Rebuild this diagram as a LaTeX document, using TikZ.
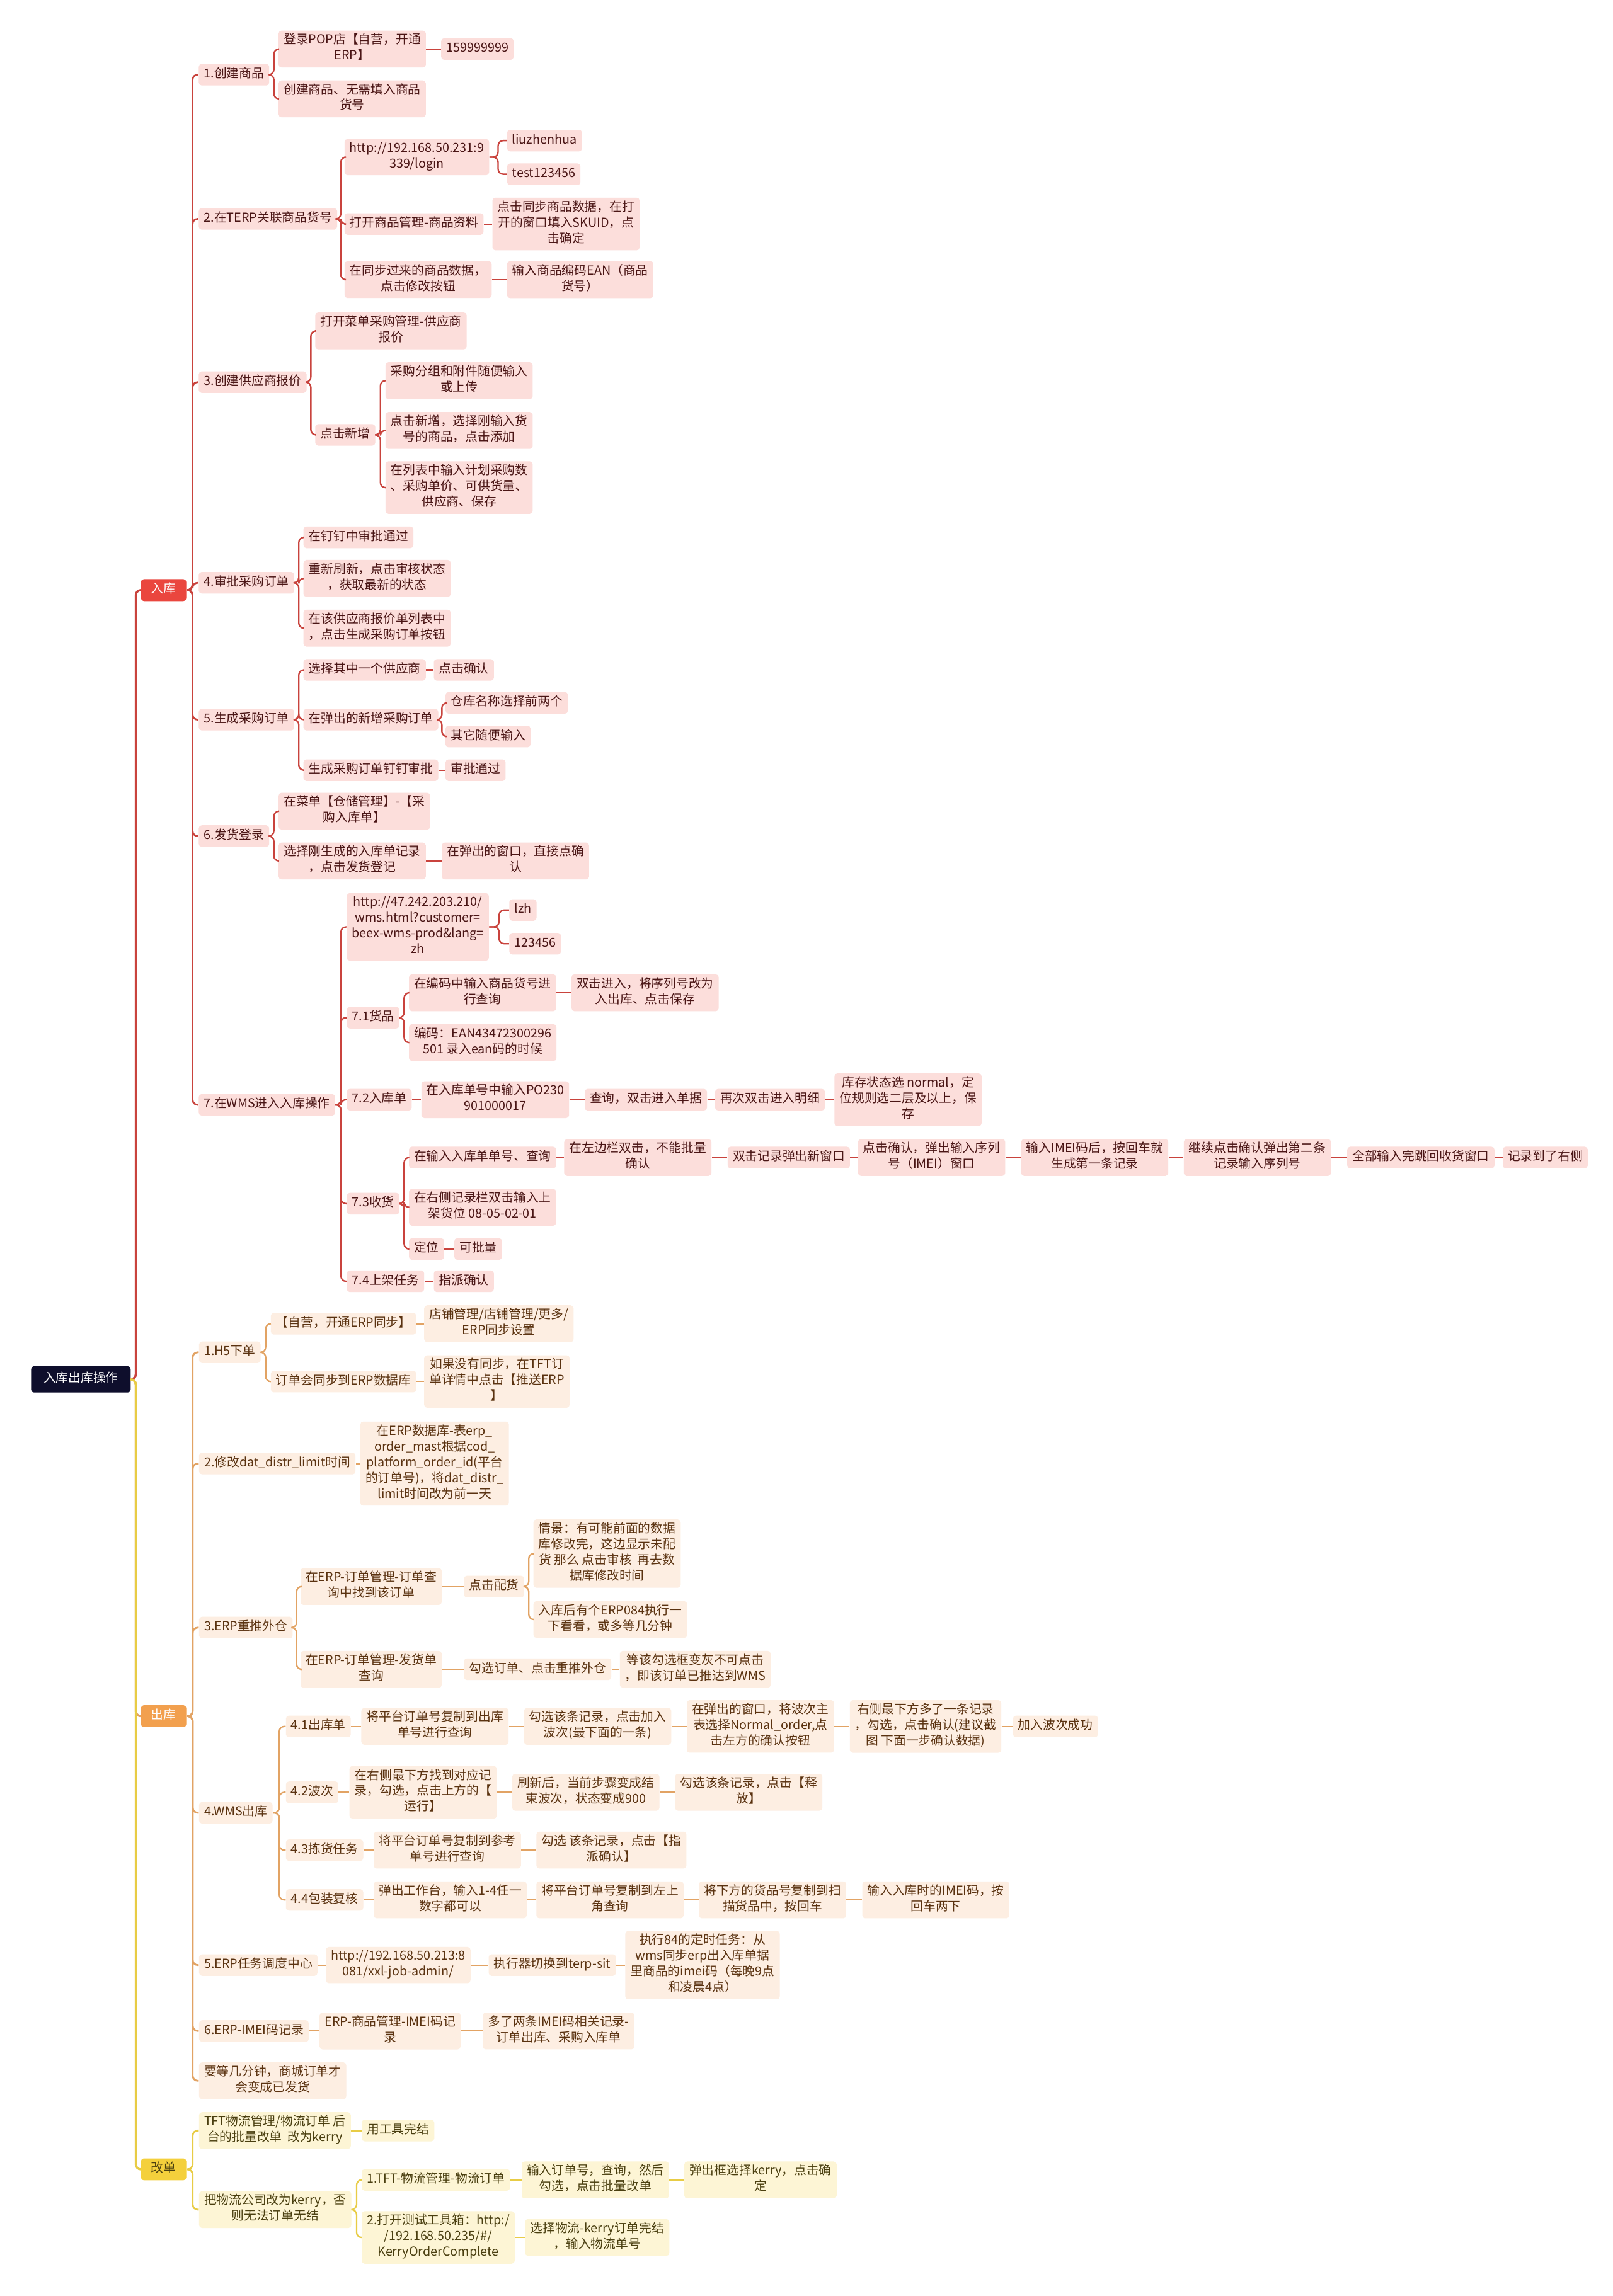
\documentclass[tikz,border=0pt]{standalone}
\usepackage{fontspec}
\setmainfont{Noto Sans CJK SC}
\usetikzlibrary{calc}

\definecolor{cRoot}{HTML}{0E0E2C}
\definecolor{cInHd}{HTML}{EA463E}
\definecolor{cInLn}{HTML}{C9433D}
\definecolor{cInBg}{HTML}{FCDEDB}
\definecolor{cInTx}{HTML}{4A1515}
\definecolor{cOutHd}{HTML}{F2A04E}
\definecolor{cOutLn}{HTML}{E2A364}
\definecolor{cOutBg}{HTML}{FDEEE2}
\definecolor{cOutTx}{HTML}{5A3210}
\definecolor{cChgHd}{HTML}{F4D03C}
\definecolor{cChgLn}{HTML}{E8CC45}
\definecolor{cChgBg}{HTML}{FDF5D5}
\definecolor{cChgTx}{HTML}{4A3F10}

\begin{document}
\begin{tikzpicture}[x=1pt, y=-1pt,
  box/.style={rounded corners=2pt, align=center, anchor=west,
    inner xsep=3.5pt, inner ysep=2pt,
    font=\fontsize{8.5}{10.75}\selectfont,
    execute at begin node=\strut, execute at end node=\strut},
  head/.style={box, minimum width=31pt, minimum height=15pt, text=white},
  rootbox/.style={box, fill=cRoot, text=white, inner xsep=8.5pt, minimum height=18pt},
  inhead/.style={head, fill=cInHd},
  outhead/.style={head, fill=cOutHd},
  chghead/.style={head, fill=cChgHd, text=cChgTx},
  inleaf/.style={box, fill=cInBg, text=cInTx},
  outleaf/.style={box, fill=cOutBg, text=cOutTx},
  chgleaf/.style={box, fill=cChgBg, text=cChgTx},
  brk/.style={rounded corners=3.5pt,
    to path={-- ($(\tikztostart)!.5!(\tikztostart -| \tikztotarget)$) |- (\tikztotarget)}},
  straight/.style={to path={-- (\tikztotarget)}},
  inln/.style={brk, draw=cInLn, line width=1pt},
  outln/.style={brk, draw=cOutLn, line width=1pt},
  chgln/.style={brk, draw=cChgLn, line width=1pt}]

  \useasboundingbox (0,0) rectangle (1101,1568);
  \fill[white] (0,0) rectangle (1101,1568);

  % root and the three branches
  \node[rootbox] (r) at (21,942) {入库出库操作};
  \node[inhead] (in) at (96,403) {入库};
  \node[outhead] (out) at (96,1172) {出库};
  \node[chghead] (chg) at (96,1481.5) {改单};

  % 入库
  \node[inleaf] (i1) at (135.5,51) {1.创建商品};
  \node[inleaf] (i1a) at (190,33.5) {登录POP店【自营，开通\\ERP】};
  \node[inleaf] (i1a1) at (301,33.5) {159999999};
  \node[inleaf] (i1b) at (190,67.5) {创建商品、无需填入商品\\货号};

  \node[inleaf] (i2) at (135.5,149.5) {2.在TERP关联商品货号};
  \node[inleaf] (i2a) at (235,107.3) {http://192.168.50.231:9\\339/login};
  \node[inleaf] (i2a1) at (346,96) {liuzhenhua};
  \node[inleaf] (i2a2) at (346,119) {test123456};
  \node[inleaf] (i2b) at (235,153) {打开商品管理-商品资料};
  \node[inleaf] (i2b1) at (336,153) {点击同步商品数据，在打\\开的窗口填入SKUID，点\\击确定};
  \node[inleaf] (i2c) at (235,191) {在同步过来的商品数据，\\点击修改按钮};
  \node[inleaf] (i2c1) at (346,191) {输入商品编码EAN（商品\\货号）};

  \node[inleaf] (i3) at (135.5,261) {3.创建供应商报价};
  \node[inleaf] (i3a) at (215,226) {打开菜单采购管理-供应商\\报价};
  \node[inleaf] (i3b) at (215,297) {点击新增};
  \node[inleaf] (i3b1) at (263,260) {采购分组和附件随便输入\\或上传};
  \node[inleaf] (i3b2) at (263,294) {点击新增，选择刚输入货\\号的商品，点击添加};
  \node[inleaf] (i3b3) at (263,333) {在列表中输入计划采购数\\、采购单价、可供货量、\\供应商、保存};

  \node[inleaf] (i4) at (135.5,398) {4.审批采购订单};
  \node[inleaf] (i4a) at (207,367) {在钉钉中审批通过};
  \node[inleaf] (i4b) at (207,395) {重新刷新，点击审核状态\\，获取最新的状态};
  \node[inleaf] (i4c) at (207,429) {在该供应商报价单列表中\\，点击生成采购订单按钮};

  \node[inleaf] (i5) at (135.5,491.5) {5.生成采购订单};
  \node[inleaf] (i5a) at (207,457.5) {选择其中一个供应商};
  \node[inleaf] (i5a1) at (296,457.5) {点击确认};
  \node[inleaf] (i5b) at (207,491.5) {在弹出的新增采购订单};
  \node[inleaf] (i5b1) at (304,480) {仓库名称选择前两个};
  \node[inleaf] (i5b2) at (304,503) {其它随便输入};
  \node[inleaf] (i5c) at (207,526) {生成采购订单钉钉审批};
  \node[inleaf] (i5c1) at (304,526) {审批通过};

  \node[inleaf] (i6) at (135.5,571) {6.发货登录};
  \node[inleaf] (i6a) at (190,554) {在菜单【仓储管理】-【采\\购入库单】};
  \node[inleaf] (i6b) at (190,588) {选择刚生成的入库单记录\\，点击发货登记};
  \node[inleaf] (i6b1) at (301.5,588) {在弹出的窗口，直接点确\\认};

  \node[inleaf] (i7) at (135.5,754.5) {7.在WMS进入入库操作};
  \node[inleaf] (i7a) at (236.6,633) {http://47.242.203.210/\\wms.html?customer=\\beex-wms-prod\&lang=\\zh};
  \node[inleaf] (i7a1) at (347.5,621.5) {lzh};
  \node[inleaf] (i7a2) at (347.5,644.5) {123456};
  \node[inleaf] (i7b) at (236.6,695) {7.1货品};
  \node[inleaf] (i7b1) at (279,678) {在编码中输入商品货号进\\行查询};
  \node[inleaf] (i7b11) at (390,678) {双击进入，将序列号改为\\入出库、点击保存};
  \node[inleaf] (i7b2) at (279,712) {编码：EAN43472300296\\501 录入ean码的时候};
  \node[inleaf] (i7c) at (236.6,751) {7.2入库单};
  \node[inleaf] (i7c1) at (287.5,751) {在入库单号中输入PO230\\901000017};
  \node[inleaf] (i7c2) at (399,751) {查询，双击进入单据};
  \node[inleaf] (i7c3) at (488,751) {再次双击进入明细};
  \node[inleaf] (i7c4) at (569.5,751) {库存状态选 normal，定\\位规则选二层及以上，保\\存};
  \node[inleaf] (i7d) at (236.6,822) {7.3收货};
  \node[inleaf] (i7d1) at (279,790.5) {在输入入库单单号、查询};
  \node[inleaf] (i7d1a) at (385,790.5) {在左边栏双击，不能批量\\确认};
  \node[inleaf] (i7d1b) at (496.6,790.5) {双击记录弹出新窗口};
  \node[inleaf] (i7d1c) at (585.6,790.5) {点击确认，弹出输入序列\\号（IMEI）窗口};
  \node[inleaf] (i7d1d) at (697,790.5) {输入IMEI码后，按回车就\\生成第一条记录};
  \node[inleaf] (i7d1e) at (808,790.5) {继续点击确认弹出第二条\\记录输入序列号};
  \node[inleaf] (i7d1f) at (919.6,790.5) {全部输入完跳回收货窗口};
  \node[inleaf] (i7d1g) at (1025.8,790.5) {记录到了右侧};
  \node[inleaf] (i7d2) at (279,824.5) {在右侧记录栏双击输入上\\架货位 08-05-02-01};
  \node[inleaf] (i7d3) at (279,853) {定位};
  \node[inleaf] (i7d31) at (310,853) {可批量};
  \node[inleaf] (i7e) at (236.6,875) {7.4上架任务};
  \node[inleaf] (i7e1) at (296,875) {指派确认};

  % 出库
  \node[outleaf] (o1) at (135.7,923.5) {1.H5下单};
  \node[outleaf] (o1a) at (184.7,904) {【自营，开通ERP同步】};
  \node[outleaf] (o1a1) at (289.4,904) {店铺管理/店铺管理/更多/\\ERP同步设置};
  \node[outleaf] (o1b) at (184.7,943.5) {订单会同步到ERP数据库};
  \node[outleaf] (o1b1) at (289.4,943.5) {如果没有同步，在TFT订\\单详情中点击【推送ERP\\】};

  \node[outleaf] (o2) at (135.7,999.5) {2.修改dat\_distr\_limit时间};
  \node[outleaf] (o2a) at (245.8,999.5) {在ERP数据库-表erp\_\\order\_mast根据cod\_\\platform\_order\_id(平台\\的订单号)，将dat\_distr\_\\limit时间改为前一天};

  \node[outleaf] (o3) at (135.7,1111.5) {3.ERP重推外仓};
  \node[outleaf] (o3a) at (205,1083.5) {在ERP-订单管理-订单查\\询中找到该订单};
  \node[outleaf] (o3a1) at (316.6,1083.5) {点击配货};
  \node[outleaf] (o3a11) at (364,1061) {情景：有可能前面的数据\\库修改完，这边显示未配\\货 那么 点击审核\ \ 再去数\\据库修改时间};
  \node[outleaf] (o3a12) at (364,1106) {入库后有个ERP084执行一\\下看看，或多等几分钟};
  \node[outleaf] (o3b) at (205,1140) {在ERP-订单管理-发货单\\查询};
  \node[outleaf] (o3b1) at (316.6,1140) {勾选订单、点击重推外仓};
  \node[outleaf] (o3b11) at (423,1140) {等该勾选框变灰不可点击\\，即该订单已推达到WMS};

  \node[outleaf] (o4) at (135.7,1238) {4.WMS出库};
  \node[outleaf] (o4a) at (195,1179) {4.1出库单};
  \node[outleaf] (o4a1) at (246.5,1179) {将平台订单号复制到出库\\单号进行查询};
  \node[outleaf] (o4a2) at (357.6,1179) {勾选该条记录，点击加入\\波次(最下面的一条)};
  \node[outleaf] (o4a3) at (468.7,1179) {在弹出的窗口，将波次主\\表选择Normal\_order,点\\击左方的确认按钮};
  \node[outleaf] (o4a4) at (580,1179) {右侧最下方多了一条记录\\，勾选，点击确认(建议截\\图 下面一步确认数据)};
  \node[outleaf] (o4a5) at (691.4,1179) {加入波次成功};
  \node[outleaf] (o4b) at (195,1224) {4.2波次};
  \node[outleaf] (o4b1) at (238.4,1224) {在右侧最下方找到对应记\\录，勾选，点击上方的【\\运行】};
  \node[outleaf] (o4b2) at (349.5,1224) {刷新后，当前步骤变成结\\束波次，状态变成900};
  \node[outleaf] (o4b3) at (460.7,1224) {勾选该条记录，点击【释\\放】};
  \node[outleaf] (o4c) at (195,1263.5) {4.3拣货任务};
  \node[outleaf] (o4c1) at (255,1263.5) {将平台订单号复制到参考\\单号进行查询};
  \node[outleaf] (o4c2) at (366,1263.5) {勾选 该条记录，点击【指\\派确认】};
  \node[outleaf] (o4d) at (195,1297.5) {4.4包装复核};
  \node[outleaf] (o4d1) at (255,1297.5) {弹出工作台，输入1-4任一\\数字都可以};
  \node[outleaf] (o4d2) at (366,1297.5) {将平台订单号复制到左上\\角查询};
  \node[outleaf] (o4d3) at (477,1297.5) {将下方的货品号复制到扫\\描货品中，按回车};
  \node[outleaf] (o4d4) at (588.5,1297.5) {输入入库时的IMEI码，按\\回车两下};

  \node[outleaf] (o5) at (135.7,1342) {5.ERP任务调度中心};
  \node[outleaf] (o5a) at (222.3,1342) {http://192.168.50.213:8\\081/xxl-job-admin/};
  \node[outleaf] (o5b) at (333.4,1342) {执行器切换到terp-sit};
  \node[outleaf] (o5c) at (426.7,1342) {执行84的定时任务：从\\wms同步erp出入库单据\\里商品的imei码（每晚9点\\和凌晨4点）};

  \node[outleaf] (o6) at (135.7,1387) {6.ERP-IMEI码记录};
  \node[outleaf] (o6a) at (218,1387) {ERP-商品管理-IMEI码记\\录};
  \node[outleaf] (o6b) at (329.5,1387) {多了两条IMEI码相关记录-\\订单出库、采购入库单};

  \node[outleaf] (o7) at (135.7,1421) {要等几分钟，商城订单才\\会变成已发货};

  % 改单
  \node[chgleaf] (g1) at (135.7,1455) {TFT物流管理/物流订单 后\\台的批量改单\ \ 改为kerry};
  \node[chgleaf] (g1a) at (246.8,1455) {用工具完结};
  \node[chgleaf] (g2) at (135.7,1509) {把物流公司改为kerry，否\\则无法订单无结};
  \node[chgleaf] (g2a) at (246.8,1488.7) {1.TFT-物流管理-物流订单};
  \node[chgleaf] (g2a1) at (356,1488.7) {输入订单号，查询，然后\\勾选，点击批量改单};
  \node[chgleaf] (g2a2) at (467,1488.7) {弹出框选择kerry，点击确\\定};
  \node[chgleaf] (g2b) at (246.8,1528) {2.打开测试工具箱：http:/\\/192.168.50.235/\#/\\KerryOrderComplete};
  \node[chgleaf] (g2b1) at (358.3,1528) {选择物流-kerry订单完结\\，输入物流单号};

  % connectors: brackets
  \draw[inln, line width=1.5pt] (r.east) to (in.west);
  \draw[outln, line width=1.5pt] (r.east) to (out.west);
  \draw[chgln, line width=1.5pt] (r.east) to (chg.west);

  \foreach \b in {i1,i2,i3,i4,i5,i6,i7}
    \draw[inln, line width=1.2pt] (in.east) to (\b.west);
  \foreach \a/\b in {i1/i1a, i1/i1b, i2/i2a, i2a/i2a1, i2a/i2a2, i2/i2b,
      i2/i2c, i3/i3a, i3/i3b, i3b/i3b1, i3b/i3b2, i3b/i3b3, i4/i4a,
      i4/i4b, i4/i4c, i5/i5a, i5/i5b, i5b/i5b1, i5b/i5b2, i5/i5c,
      i6/i6a, i6/i6b, i7/i7a, i7a/i7a1, i7a/i7a2, i7/i7b, i7b/i7b1,
      i7b/i7b2, i7/i7c, i7/i7d, i7d/i7d1, i7d/i7d2, i7d/i7d3, i7/i7e}
    \draw[inln] (\a.east) to (\b.west);

  \foreach \b in {o1,o2,o3,o4,o5,o6,o7}
    \draw[outln, line width=1.2pt] (out.east) to (\b.west);
  \foreach \a/\b in {o1/o1a, o1/o1b, o3/o3a, o3a1/o3a11, o3a1/o3a12,
      o3/o3b, o4/o4a, o4/o4b, o4/o4c, o4/o4d}
    \draw[outln] (\a.east) to (\b.west);

  \foreach \b in {g1,g2}
    \draw[chgln, line width=1.2pt] (chg.east) to (\b.west);
  \foreach \a/\b in {g2/g2a, g2/g2b}
    \draw[chgln] (\a.east) to (\b.west);

  % connectors: straight
  \foreach \a/\b in {i1a/i1a1, i2b/i2b1, i2c/i2c1, i5a/i5a1, i5c/i5c1,
      i6b/i6b1, i7b1/i7b11, i7c/i7c1, i7c1/i7c2, i7c2/i7c3, i7c3/i7c4,
      i7d1/i7d1a, i7d1a/i7d1b, i7d1b/i7d1c, i7d1c/i7d1d, i7d1d/i7d1e,
      i7d1e/i7d1f, i7d1f/i7d1g, i7d3/i7d31, i7e/i7e1}
    \draw[inln, straight] (\a.east) to (\b.west);
  \foreach \a/\b in {o1a/o1a1, o1b/o1b1, o2/o2a, o3a/o3a1, o3b/o3b1,
      o3b1/o3b11, o4a/o4a1, o4a1/o4a2, o4a2/o4a3, o4a3/o4a4, o4a4/o4a5,
      o4b/o4b1, o4b1/o4b2, o4b2/o4b3, o4c/o4c1, o4c1/o4c2, o4d/o4d1,
      o4d1/o4d2, o4d2/o4d3, o4d3/o4d4, o5/o5a, o5a/o5b, o5b/o5c,
      o6/o6a, o6a/o6b}
    \draw[outln, straight] (\a.east) to (\b.west);
  \foreach \a/\b in {g1/g1a, g2a/g2a1, g2a1/g2a2, g2b/g2b1}
    \draw[chgln, straight] (\a.east) to (\b.west);
\end{tikzpicture}
\end{document}
